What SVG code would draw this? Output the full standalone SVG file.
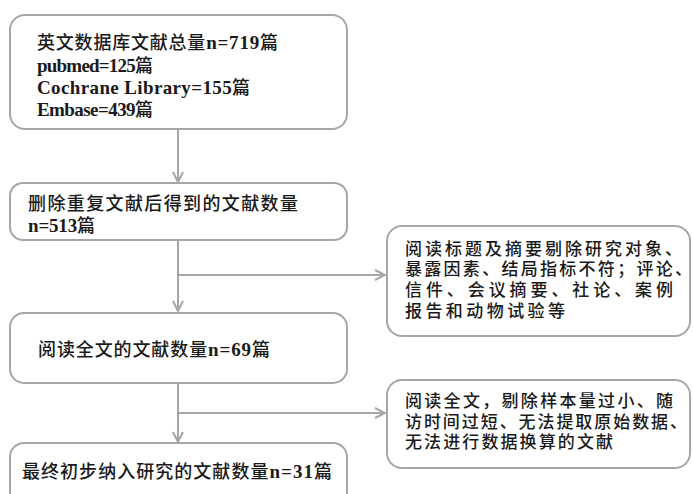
<svg xmlns="http://www.w3.org/2000/svg" width="693" height="494" viewBox="0 0 693 494">
<style>
.box{fill:#fff;stroke:#a6a6a6;stroke-width:2}
.t{font-family:"Liberation Serif","Noto Sans CJK SC",serif;font-size:19px;fill:#1a1a1a;font-weight:bold}
.c{font-weight:500;font-size:18px}
.s{font-size:17px}
.w{stroke:#a6a6a6;stroke-width:2;fill:none}
</style>
<defs>
<marker id="arr" viewBox="0 0 12 12" refX="11" refY="6" markerWidth="12" markerHeight="12" markerUnits="userSpaceOnUse" orient="auto">
<path d="M1,1 L11,6 L1,11" fill="none" stroke="#a6a6a6" stroke-width="2"/>
</marker>
</defs>
<rect width="693" height="494" fill="#fff"/>
<g id="connectors">
<line class="w" x1="178" y1="129" x2="178" y2="182" marker-end="url(#arr)"/>
<line class="w" x1="178" y1="240" x2="178" y2="311" marker-end="url(#arr)"/>
<line class="w" x1="178" y1="275" x2="385" y2="275" marker-end="url(#arr)"/>
<line class="w" x1="178" y1="383" x2="178" y2="442" marker-end="url(#arr)"/>
<line class="w" x1="178" y1="413" x2="385" y2="413" marker-end="url(#arr)"/>
</g>
<g id="n1">
<rect class="box" x="10" y="15" width="337" height="114" rx="15"/>
<text class="t" x="37" y="49" textLength="241" lengthAdjust="spacing"><tspan class="c">英文数据库文献总量</tspan>n=719<tspan class="c">篇</tspan></text>
<text class="t" x="37" y="72" textLength="116" lengthAdjust="spacing">pubmed=125<tspan class="c">篇</tspan></text>
<text class="t" x="37" y="94" textLength="213" lengthAdjust="spacing">Cochrane Library=155<tspan class="c">篇</tspan></text>
<text class="t" x="37" y="116" textLength="116" lengthAdjust="spacing">Embase=439<tspan class="c">篇</tspan></text>
</g>
<g id="n2">
<rect class="box" x="10" y="183" width="337" height="57" rx="13"/>
<text class="t c" x="28" y="210" textLength="270" lengthAdjust="spacing">删除重复文献后得到的文献数量</text>
<text class="t" x="28" y="232" textLength="67" lengthAdjust="spacing">n=513<tspan class="c">篇</tspan></text>
</g>
<g id="n3">
<rect class="box" x="387" y="226" width="303" height="110" rx="15"/>
<text class="t c s" x="405" y="255" textLength="277" lengthAdjust="spacing">阅读标题及摘要剔除研究对象、</text>
<text class="t c s" x="405" y="275" textLength="287" lengthAdjust="spacing">暴露因素、结局指标不符；评论、</text>
<text class="t c s" x="405" y="296" textLength="268" lengthAdjust="spacing">信件、会议摘要、社论、案例</text>
<text class="t c s" x="405" y="317" textLength="160" lengthAdjust="spacing">报告和动物试验等</text>
</g>
<g id="n4">
<rect class="box" x="10" y="313" width="337" height="70" rx="14"/>
<text class="t" x="38" y="356" textLength="232" lengthAdjust="spacing"><tspan class="c">阅读全文的文献数量</tspan>n=69<tspan class="c">篇</tspan></text>
</g>
<g id="n5">
<rect class="box" x="387" y="380" width="303" height="88" rx="15"/>
<text class="t c s" x="405" y="407" textLength="268" lengthAdjust="spacing">阅读全文，剔除样本量过小、随</text>
<text class="t c s" x="405" y="428" textLength="282" lengthAdjust="spacing">访时间过短、无法提取原始数据、</text>
<text class="t c s" x="405" y="448" textLength="208" lengthAdjust="spacing">无法进行数据换算的文献</text>
</g>
<g id="n6">
<rect class="box" x="10" y="443" width="337" height="70" rx="14"/>
<text class="t" x="22" y="478" textLength="310" lengthAdjust="spacing"><tspan class="c">最终初步纳入研究的文献数量</tspan>n=31<tspan class="c">篇</tspan></text>
</g>
</svg>
